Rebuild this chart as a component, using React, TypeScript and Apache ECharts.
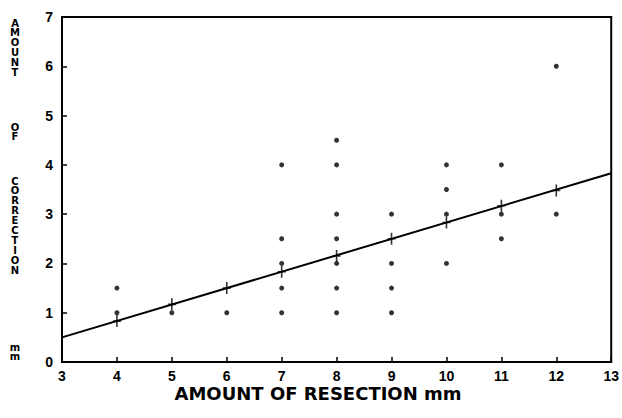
import React, { useEffect, useRef } from "react";
import * as echarts from "echarts";

// Observed points: [resection mm, correction mm]
const dotX = [4, 4, 5, 6, 7, 7, 7, 7, 7, 8, 8, 8, 8, 8, 8, 8, 9, 9, 9, 9, 10, 10, 10, 10, 11, 11, 11, 12, 12];
const dotY = [1.5, 1.0, 1.0, 1.0, 4.0, 2.5, 2.0, 1.5, 1.0, 4.5, 4.0, 3.0, 2.5, 2.0, 1.5, 1.0, 3.0, 2.0, 1.5, 1.0, 4.0, 3.5, 3.0, 2.0, 4.0, 3.0, 2.5, 6.0, 3.0];

// Regression line end points
const fitX = [3, 13];
const fitY = [0.5, 3.83];

// Fitted means shown as crosses
const crossX = [4, 5, 6, 7, 8, 9, 10, 11, 12];
const crossY = [0.83, 1.17, 1.5, 1.83, 2.15, 2.5, 2.83, 3.17, 3.48];

const xTicks = [3, 4, 5, 6, 7, 8, 9, 10, 11, 12, 13];
const yTicks = [0, 1, 2, 3, 4, 5, 6, 7];

const yTitleWords = ["AMOUNT", "OF", "CORRECTION", "mm"];
const yTitleFirstCenters = [23, 127, 181, 347];

const xTitle = "AMOUNT OF RESECTION mm";

const FONT = "'DejaVu Sans', 'Liberation Sans', Arial, sans-serif";
const TICKFONT = "'Liberation Sans', Arial, sans-serif";
const PLUS =
  "path://M3.2,0 H4.8 V5.2 H8 V6.8 H4.8 V12 H3.2 V6.8 H0 V5.2 H3.2 Z";

export default function App() {
  const ref = useRef<HTMLDivElement>(null);
  useEffect(() => {
    if (!ref.current) return;
    document.body.style.margin = "0";
    document.body.style.overflow = "hidden";
    const chart = echarts.init(ref.current, undefined, { renderer: "svg" });
    const dots = dotX.map((x, i) => [x, dotY[i]]);
    const fit = fitX.map((x, i) => [x, fitY[i]]);
    const crosses = crossX.map((x, i) => [x, crossY[i]]);

    const letterGraphics: any[] = [];
    yTitleWords.forEach((w, wi) => {
      w.split("").forEach((ch, ci) => {
        letterGraphics.push({
          type: "text",
          x: 15,
          y: yTitleFirstCenters[wi] + ci * 9.9,
          style: {
            text: ch,
            fontFamily: FONT,
            fontWeight: "bold",
            fontSize: 10,
            fill: "#000",
            textAlign: "center",
            textVerticalAlign: "middle",
          },
        });
      });
    });

    chart.setOption({
      animation: false,
      backgroundColor: "#fff",
      grid: {
        left: 62,
        right: 8,
        top: 17,
        bottom: 56,
        show: true,
        borderColor: "#000",
        borderWidth: 2,
        backgroundColor: "transparent",
      },
      xAxis: {
        type: "value",
        min: xTicks[0],
        max: xTicks[xTicks.length - 1],
        interval: 1,
        axisLine: { show: true, lineStyle: { color: "#000", width: 2 } },
        axisTick: { show: true, inside: true, length: 5, lineStyle: { color: "#000", width: 1.5 } },
        axisLabel: {
          margin: 7,
          fontFamily: TICKFONT,
          fontWeight: "bold",
          fontSize: 14,
          color: "#000",
        },
        splitLine: { show: false },
      },
      yAxis: {
        type: "value",
        min: yTicks[0],
        max: yTicks[yTicks.length - 1],
        interval: 1,
        axisLine: { show: true, lineStyle: { color: "#000", width: 2 } },
        axisTick: { show: true, inside: true, length: 5, lineStyle: { color: "#000", width: 1.5 } },
        axisLabel: {
          margin: 9,
          fontFamily: TICKFONT,
          fontWeight: "bold",
          fontSize: 14,
          color: "#000",
        },
        splitLine: { show: false },
      },
      graphic: [
        ...letterGraphics,
        {
          type: "text",
          x: 318,
          y: 393,
          style: {
            text: xTitle,
            fontFamily: FONT,
            fontWeight: "bold",
            fontSize: 18,
            fill: "#000",
            textAlign: "center",
            textVerticalAlign: "middle",
          },
        },
      ],
      series: [
        {
          type: "line",
          data: fit,
          symbol: "none",
          lineStyle: { color: "#000", width: 2 },
          z: 2,
        },
        {
          type: "scatter",
          data: crosses,
          symbol: PLUS,
          symbolSize: [8, 12],
          symbolKeepAspect: false,
          itemStyle: { color: "#000" },
          z: 3,
        },
        {
          type: "scatter",
          data: dots,
          symbol: "circle",
          symbolSize: 5,
          itemStyle: { color: "#000" },
          z: 4,
        },
      ],
    });
    return () => chart.dispose();
  }, []);
  return (
    <div
      ref={ref}
      style={{ position: "absolute", left: 0, top: 0, width: 622, height: 418 }}
    />
  );
}
